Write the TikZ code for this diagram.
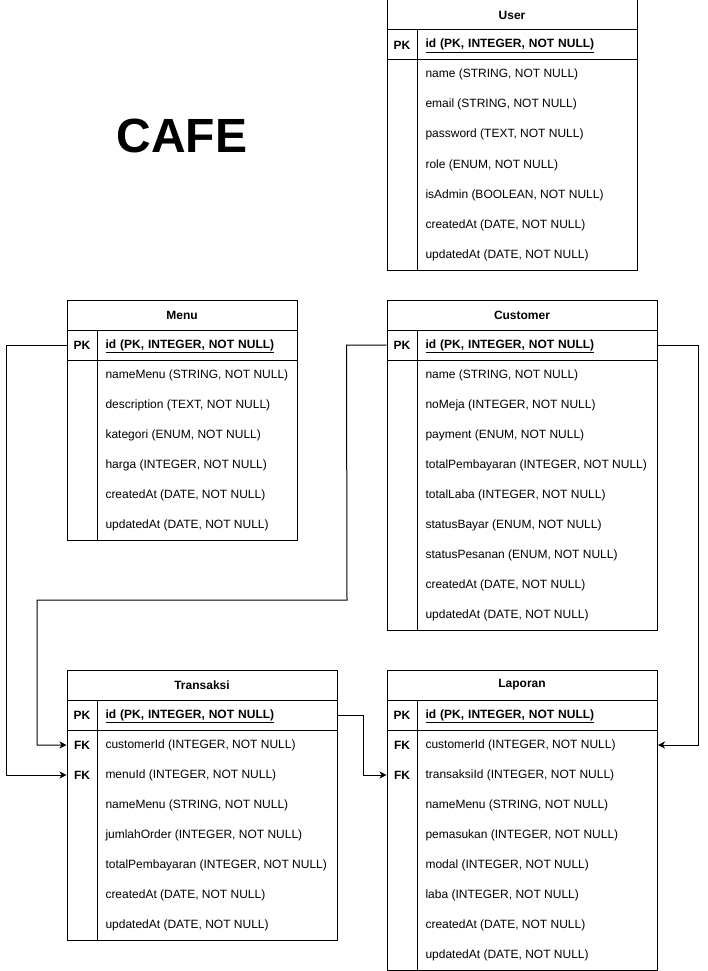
\documentclass[tikz,border=0pt]{standalone}
\usepackage{fontspec}
\setmainfont{Liberation Sans}
\usetikzlibrary{arrows.meta}

\tikzset{
  keycol/.style={minimum width=30pt, minimum height=30pt, inner sep=0pt, font=\fontsize{12pt}{14pt}\selectfont\bfseries},
  field/.style={anchor=west, minimum height=30pt, inner xsep=8pt, inner ysep=0pt, text height=8.5pt, text depth=2.5pt, font=\fontsize{12pt}{14pt}\selectfont},
  pkfield/.style={field, text width=#1, align=left, font=\fontsize{12pt}{14pt}\selectfont\bfseries},
  tabtitle/.style={minimum height=30pt, font=\fontsize{12pt}{14pt}\selectfont\bfseries},
  link/.style={line width=1pt, -{Stealth[length=7pt,width=7pt,inset=2pt]}}
}

\begin{document}
\begin{tikzpicture}[x=1pt, y=-1pt, line width=1pt]
		\fill[white] (0,0) rectangle (707,971);
		\useasboundingbox (0,0) rectangle (707,971);

		% heading
		\node[font=\fontsize{48pt}{56pt}\selectfont\bfseries] (cafe) at (182,136) {CAFE};

		% User
		\draw (387,0) rectangle (637,270);
		\draw (387,30) -- (637,30);
		\draw (387,60) -- (637,60);
		\draw (417,30) -- (417,270);
		\node[tabtitle] (user) at (512,15) {User};
		\node[keycol] (user-pk) at (402,45) {PK};
		\node[pkfield=204pt] (user-id) at (417,45) {\underline{id (PK, INTEGER, NOT NULL)}};
		\node[field] (user-name) at (417,75) {name (STRING, NOT NULL)};
		\node[field] (user-email) at (417,105) {email (STRING, NOT NULL)};
		\node[field] (user-pass) at (417,135) {password (TEXT, NOT NULL)};
		\node[field] (user-role) at (417,165) {role (ENUM, NOT NULL)};
		\node[field] (user-admin) at (417,195) {isAdmin (BOOLEAN, NOT NULL)};
		\node[field] (user-created) at (417,225) {createdAt (DATE, NOT NULL)};
		\node[field] (user-updated) at (417,255) {updatedAt (DATE, NOT NULL)};

		% Menu
		\draw (67,300) rectangle (297,540);
		\draw (67,330) -- (297,330);
		\draw (67,360) -- (297,360);
		\draw (97,330) -- (97,540);
		\node[tabtitle] (menu) at (182,315) {Menu};
		\node[keycol] (menu-pk) at (82,345) {PK};
		\node[pkfield=184pt] (menu-id) at (97,345) {\underline{id (PK, INTEGER, NOT NULL)}};
		\node[field] (menu-name) at (97,375) {nameMenu (STRING, NOT NULL)};
		\node[field] (menu-desc) at (97,405) {description (TEXT, NOT NULL)};
		\node[field] (menu-kat) at (97,435) {kategori (ENUM, NOT NULL)};
		\node[field] (menu-harga) at (97,465) {harga (INTEGER, NOT NULL)};
		\node[field] (menu-created) at (97,495) {createdAt (DATE, NOT NULL)};
		\node[field] (menu-updated) at (97,525) {updatedAt (DATE, NOT NULL)};

		% Customer
		\draw (387,300) rectangle (657,630);
		\draw (387,330) -- (657,330);
		\draw (387,360) -- (657,360);
		\draw (417,330) -- (417,630);
		\node[tabtitle] (cust) at (522,315) {Customer};
		\node[keycol] (cust-pk) at (402,345) {PK};
		\node[pkfield=224pt] (cust-id) at (417,345) {\underline{id (PK, INTEGER, NOT NULL)}};
		\node[field] (cust-name) at (417,375) {name (STRING, NOT NULL)};
		\node[field] (cust-meja) at (417,405) {noMeja (INTEGER, NOT NULL)};
		\node[field] (cust-pay) at (417,435) {payment (ENUM, NOT NULL)};
		\node[field] (cust-total) at (417,465) {totalPembayaran (INTEGER, NOT NULL)};
		\node[field] (cust-laba) at (417,495) {totalLaba (INTEGER, NOT NULL)};
		\node[field] (cust-bayar) at (417,525) {statusBayar (ENUM, NOT NULL)};
		\node[field] (cust-pesan) at (417,555) {statusPesanan (ENUM, NOT NULL)};
		\node[field] (cust-created) at (417,585) {createdAt (DATE, NOT NULL)};
		\node[field] (cust-updated) at (417,615) {updatedAt (DATE, NOT NULL)};

		% Transaksi
		\draw (67,670) rectangle (337,940);
		\draw (67,700) -- (337,700);
		\draw (67,730) -- (337,730);
		\draw (97,700) -- (97,940);
		\node[tabtitle] (trans) at (202,685) {Transaksi};
		\node[keycol] (trans-pk) at (82,715) {PK};
		\node[pkfield=224pt] (trans-id) at (97,715) {\underline{id (PK, INTEGER, NOT NULL)}};
		\node[keycol] (trans-fk1) at (82,745) {FK};
		\node[field] (trans-cust) at (97,745) {customerId (INTEGER, NOT NULL)};
		\node[keycol] (trans-fk2) at (82,775) {FK};
		\node[field] (trans-menu) at (97,775) {menuId (INTEGER, NOT NULL)};
		\node[field] (trans-name) at (97,805) {nameMenu (STRING, NOT NULL)};
		\node[field] (trans-jumlah) at (97,835) {jumlahOrder (INTEGER, NOT NULL)};
		\node[field] (trans-total) at (97,865) {totalPembayaran (INTEGER, NOT NULL)};
		\node[field] (trans-created) at (97,895) {createdAt (DATE, NOT NULL)};
		\node[field] (trans-updated) at (97,925) {updatedAt (DATE, NOT NULL)};

		% Laporan
		\draw (387,670) rectangle (657,970);
		\draw (387,700) -- (657,700);
		\draw (387,730) -- (657,730);
		\draw (417,700) -- (417,970);
		\node[tabtitle] (lap) at (522,685) {Laporan};
		\node[keycol] (lap-pk) at (402,715) {PK};
		\node[pkfield=224pt] (lap-id) at (417,715) {\underline{id (PK, INTEGER, NOT NULL)}};
		\node[keycol] (lap-fk1) at (402,745) {FK};
		\node[field] (lap-cust) at (417,745) {customerId (INTEGER, NOT NULL)};
		\node[keycol] (lap-fk2) at (402,775) {FK};
		\node[field] (lap-trans) at (417,775) {transaksiId (INTEGER, NOT NULL)};
		\node[field] (lap-name) at (417,805) {nameMenu (STRING, NOT NULL)};
		\node[field] (lap-masuk) at (417,835) {pemasukan (INTEGER, NOT NULL)};
		\node[field] (lap-modal) at (417,865) {modal (INTEGER, NOT NULL)};
		\node[field] (lap-laba) at (417,895) {laba (INTEGER, NOT NULL)};
		\node[field] (lap-created) at (417,925) {createdAt (DATE, NOT NULL)};
		\node[field] (lap-updated) at (417,955) {updatedAt (DATE, NOT NULL)};

		% relations
		\draw[link] (menu-pk.west) -- ++(-60,0) |- (trans-fk2.west);
		\draw[link] (cust-pk.west) -- ++(-40,0) -- (347,600) -- (37,600) |- (trans-fk1.west);
		\draw[link] (cust-id.east) -- ++(40,0) |- (lap-fk1.east -| cust-id.east);
		\draw[link] (trans-id.east) -- ++(25,0) |- (lap-fk2.west);
\end{tikzpicture}
\end{document}
